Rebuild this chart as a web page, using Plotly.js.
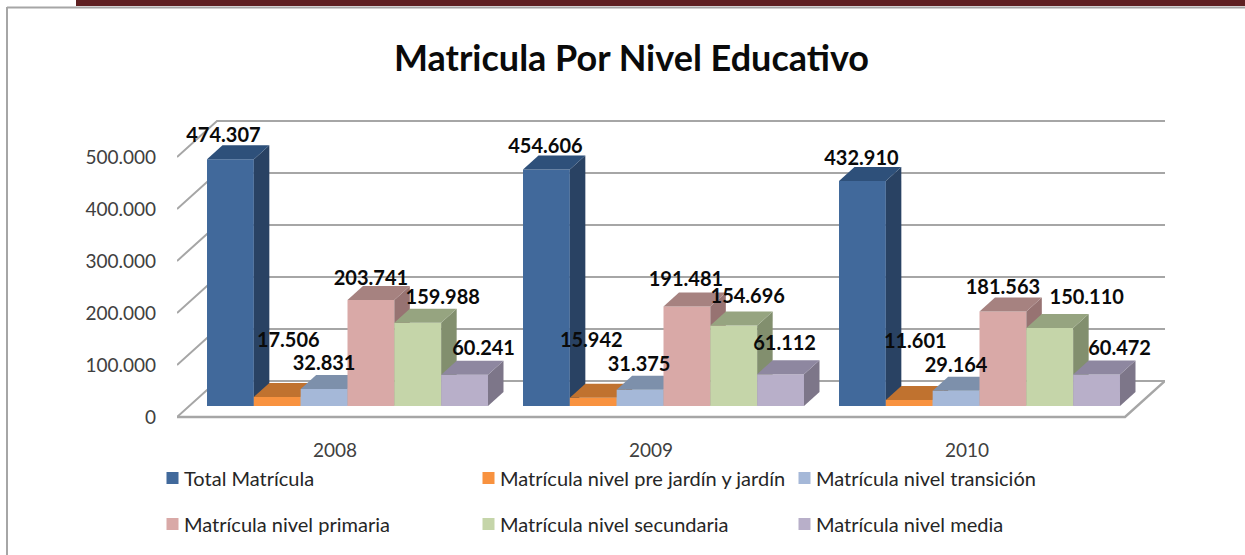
<!DOCTYPE html>
<html>
<head>
<meta charset="utf-8">
<script src="https://cdn.plot.ly/plotly-3.0.1.min.js"></script>
<style>html,body{margin:0;padding:0;background:#fff}#chart{width:1245px;height:555px}</style>
</head>
<body>
<div id="chart"></div>
<script>
// ---- data ----
const years = ['2008', '2009', '2010'];
const seriesNames = ['Total Matrícula', 'Matrícula nivel pre jardín y jardín', 'Matrícula nivel transición',
                     'Matrícula nivel primaria', 'Matrícula nivel secundaria', 'Matrícula nivel media'];
const totalMatricula = [474307, 454606, 432910];
const preJardin = [17506, 15942, 11601];
const transicion = [32831, 31375, 29164];
const primaria = [203741, 191481, 181563];
const secundaria = [159988, 154696, 150110];
const media = [60241, 61112, 60472];
const seriesValues = [totalMatricula, preJardin, transicion, primaria, secundaria, media];
const yTicks = [0, 100000, 200000, 300000, 400000, 500000];

// ---- style ----
const frontColors = ['#41699b', '#f8923f', '#a5b8d8', '#d9a9a7', '#c5d5a9', '#b8afc9'];
const topColors   = ['#2e507a', '#c0722f', '#7d90ab', '#a68280', '#96a480', '#8e87a0'];
const sideColors  = ['#294263', '#a8622a', '#6d7e96', '#977372', '#828f6e', '#7d7689'];
const gridColor = '#a6a6a6';
const FONT = 'Lato, sans-serif';

// label nudges in pixels, per series then per year
const labelDx = [[-7,-1,-1],[11,-2,6],[0,-1,0],[0,-1,0],[25,14,37],[19,4,23]];
const labelDy = [[-22,-22,-21],[-55,-56,-57],[-24,-24,-24],[-20,-25,-23],[-24,-28,-29],[-25,-29,-25]];

// ---- geometry: plot area and the pseudo-3D projection ----
const L = 177, R = 1165, T = 100, B = 430;
const pxPerGroup = 316, pxPerUnit = 0.52 / 1000;
const wallDx = 40 / pxPerGroup, wallDy = 36 / pxPerUnit;
const barW = 46.83 / pxPerGroup, depthDx = 15.5 / pxPerGroup, depthDy = 14 / pxPerUnit;
const floorZero = 417, barZero = 406, barCentre = 347.5, floorCentre = 335;
const xRange = c => [(L - c) / pxPerGroup, (R - c) / pxPerGroup];
const yRange = z => [-(B - z) / pxPerUnit, (z - T) / pxPerUnit];
const pX = p => (p - L) / (R - L), pY = p => (B - p) / (B - T);

const traces = [];

// back wall and left wall gridlines, then the floor outline (base subplot)
yTicks.forEach(v => {
  traces.push({type:'scatter', mode:'lines', xaxis:'x', yaxis:'y', showlegend:false, hoverinfo:'skip',
    x:[-0.5, -0.5 + wallDx, 2.5 + wallDx], y:[v, v + wallDy, v + wallDy],
    line:{color:gridColor, width:2}});
});
traces.push({type:'scatter', mode:'lines', xaxis:'x', yaxis:'y', showlegend:false, hoverinfo:'skip',
  x:[-0.5, 2.5, 2.5 + wallDx], y:[0, 0, wallDy], line:{color:gridColor, width:2.4}});

// one overlaying subplot per series so right-hand bars paint over left-hand sides
const overlayAxes = {};
seriesValues.forEach((vals, s) => {
  const n = s + 2, xa = 'x' + n, ya = 'y' + n;
  overlayAxes['xaxis' + n] = {overlaying:'x', range:xRange(barCentre), visible:false, fixedrange:true};
  overlayAxes['yaxis' + n] = {overlaying:'y', range:yRange(barZero), visible:false, fixedrange:true};
  const off = (s - 3) * barW;
  traces.push({type:'bar', name:seriesNames[s], xaxis:xa, yaxis:ya, x:[0,1,2], y:vals,
    width:barW, offset:off, marker:{color:frontColors[s], line:{width:0}},
    legend: s < 3 ? 'legend' : 'legend2', hoverinfo:'y+name'});
  vals.forEach((v, g) => {
    const xl = g + off, xr = xl + barW;
    traces.push({type:'scatter', mode:'lines', xaxis:xa, yaxis:ya, showlegend:false, hoverinfo:'skip',
      x:[xr, xr + depthDx, xr + depthDx, xr, xr], y:[0, depthDy, v + depthDy, v, 0],
      fill:'toself', fillcolor:sideColors[s], line:{width:0, color:sideColors[s]}});
    traces.push({type:'scatter', mode:'lines', xaxis:xa, yaxis:ya, showlegend:false, hoverinfo:'skip',
      x:[xl, xl + depthDx, xr + depthDx, xr, xl], y:[v, v + depthDy, v + depthDy, v, v],
      fill:'toself', fillcolor:topColors[s], line:{width:0, color:topColors[s]}});
  });
});

// data labels, on the last subplot so they sit above all bars
const dots = n => String(n).replace(/\B(?=(\d{3})+$)/g, '.');
const lastN = seriesValues.length + 1;
seriesValues.forEach((vals, s) => {
  traces.push({type:'scatter', mode:'text', xaxis:'x' + lastN, yaxis:'y' + lastN, showlegend:false, hoverinfo:'skip',
    x: vals.map((v, g) => g + (s - 2.5) * barW + labelDx[s][g] / pxPerGroup),
    y: vals.map((v, g) => v - labelDy[s][g] / pxPerUnit),
    text: vals.map(dots), textposition:'middle center', cliponaxis:false,
    textfont:{family:FONT, size:20, color:'#0a0a0a', weight:700}});
});

const legendBase = {orientation:'h', xref:'container', yref:'container', x:144/1245, xanchor:'left', yanchor:'middle',
  entrywidth:271, entrywidthmode:'pixels', bgcolor:'rgba(0,0,0,0)', font:{family:FONT, size:20, color:'#262626'}};

const layout = Object.assign({
  width:1245, height:555, autosize:false, paper_bgcolor:'#fff', plot_bgcolor:'rgba(0,0,0,0)',
  margin:{l:L, r:1245 - R, t:T, b:555 - B, pad:0},
  separators:',.', barmode:'overlay', font:{family:FONT, color:'#404040'},
  title:{text:'Matricula Por Nivel Educativo', xref:'container', yref:'container', x:631.5/1245, y:1 - 58/555,
         xanchor:'center', yanchor:'middle', font:{family:FONT, size:36, weight:700, color:'#0a0a0a'}},
  xaxis:{range:xRange(floorCentre), tickmode:'array', tickvals:[0,1,2], ticktext:years, showgrid:false, zeroline:false,
         showline:false, ticks:'', ticklabelstandoff:7, tickfont:{family:FONT, size:19, color:'#404040'}, fixedrange:true},
  yaxis:{range:yRange(floorZero), tickmode:'array', tickvals:yTicks, tickformat:',d', showgrid:false, zeroline:false,
         showline:false, ticks:'', ticklabelstandoff:20, tickfont:{family:FONT, size:19, color:'#404040'}, fixedrange:true},
  legend:Object.assign({}, legendBase, {y:1 - 478/555}),
  legend2:Object.assign({}, legendBase, {y:1 - 524/555}),
  shapes:[
    {type:'rect', xref:'paper', yref:'paper', x0:pX(76), x1:pX(1245), y0:pY(0), y1:pY(6), fillcolor:'#5f2022', line:{width:0}},
    {type:'line', xref:'paper', yref:'paper', x0:pX(7), x1:pX(1245), y0:pY(7.5), y1:pY(7.5), line:{color:'#a6a6a6', width:2}},
    {type:'line', xref:'paper', yref:'paper', x0:pX(7), x1:pX(7), y0:pY(7), y1:pY(555), line:{color:'#a6a6a6', width:2}}
  ]
}, overlayAxes);

Plotly.newPlot('chart', traces, layout, {displayModeBar:false}).then(gd => {
  // the reference keeps its swatches close to the legend text
  gd.querySelectorAll('.legendpoints').forEach(g => g.setAttribute('transform', 'translate(8.5,0)'));
});
</script>
</body>
</html>
